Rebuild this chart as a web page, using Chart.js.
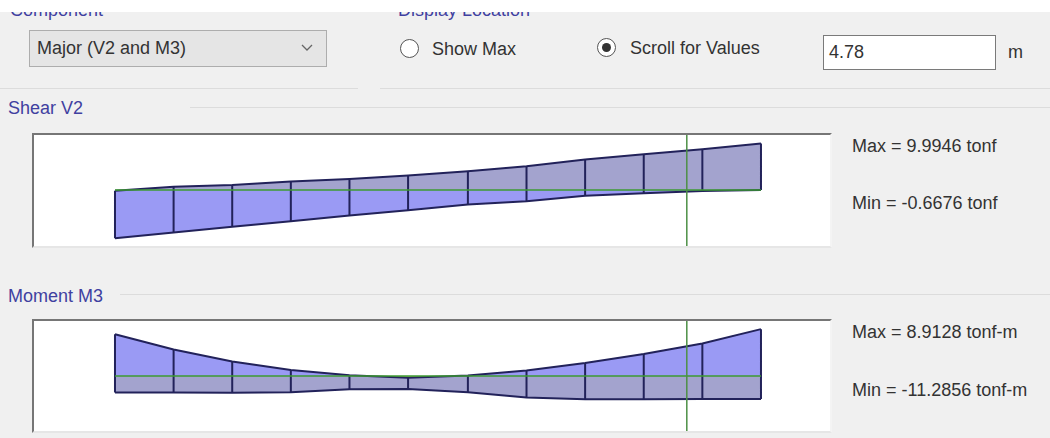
<!DOCTYPE html>
<html>
<head>
<meta charset="utf-8">
<script src="https://cdn.jsdelivr.net/npm/chart.js@4.4.1/dist/chart.umd.min.js"></script>
<style>
  body { margin: 0; width: 1050px; height: 438px; background: #f0f0f0; font-family: "Liberation Sans", Arial, sans-serif; font-size: 18px; color: #333; position: relative; overflow: hidden; }
  .abs { position: absolute; white-space: nowrap; line-height: 20px; }
  .grp { color: #4040a0; }
  .topband { position: absolute; left: 0; top: 0; width: 1050px; height: 12px; background: #fff; z-index: 5; }
  .sep { position: absolute; height: 1px; background: #dcdcdc; }
  .combo { position: absolute; left: 29px; top: 30px; width: 296px; height: 35px; background: #e5e5e5; border: 1px solid #adadad; }
  .radio { position: absolute; width: 17px; height: 17px; border: 1px solid #555; border-radius: 50%; background: #fff; }
  .dot { position: absolute; left: 4px; top: 4px; width: 9px; height: 9px; border-radius: 50%; background: #333; }
  .input { position: absolute; left: 823px; top: 35px; width: 171px; height: 33px; background: #fff; border: 1px solid #7a7a7a; }
  .box { position: absolute; left: 32px; width: 796px; background: #fff; border-top: 2px solid #767676; border-left: 2px solid #767676; border-right: 2px solid #f4f4f4; border-bottom: 2px solid #e6e6e6; }
  .box canvas { display: block; }
</style>
</head>
<body>
<div class="topband"></div>
<div class="abs grp" style="left:10px; top:0px;">Component</div>
<div class="abs grp" style="left:398px; top:0px;">Display Location</div>

<div class="combo"></div>
<div class="abs" style="left:37px; top:38px;">Major (V2 and M3)</div>
<svg style="position:absolute; left:301px; top:44px;" width="12" height="8"><polyline points="1,1 6,6 11,1" fill="none" stroke="#666" stroke-width="1.3"/></svg>

<div class="radio" style="left:400px; top:39px;"></div>
<div class="abs" style="left:432px; top:39px;">Show Max</div>
<div class="radio" style="left:597px; top:38px;"><div class="dot"></div></div>
<div class="abs" style="left:630px; top:38px;">Scroll for Values</div>
<div class="input"></div>
<div class="abs" style="left:829px; top:42px;">4.78</div>
<div class="abs" style="left:1008px; top:42px;">m</div>

<div class="sep" style="left:0; top:88px; width:358px;"></div>
<div class="sep" style="left:380px; top:88px; width:670px;"></div>
<div class="abs grp" style="left:8px; top:98px;">Shear V2</div>
<div class="sep" style="left:190px; top:107px; width:860px;"></div>

<div class="box" style="top:133px;"><canvas id="shear" width="796" height="111"></canvas></div>
<div class="abs" id="shearMax" style="left:852px; top:136px;"></div>
<div class="abs" id="shearMin" style="left:852px; top:193px;"></div>

<div class="abs grp" style="left:8px; top:286px;">Moment M3</div>
<div class="sep" style="left:120px; top:294px; width:930px;"></div>

<div class="box" style="top:319px;"><canvas id="moment" width="796" height="110"></canvas></div>
<div class="abs" id="momentMax" style="left:852px; top:322px;"></div>
<div class="abs" id="momentMin" style="left:852px; top:380px;"></div>

<script>
// estaciones a lo largo de la viga (m)
const stations = [0, 0.49, 0.98, 1.47, 1.96, 2.45, 2.95, 3.44, 3.93, 4.42, 4.91, 5.40];
const cursorX = 4.78;

// cortante V2 (tonf)
const shearTop = [-0.15, 0.72, 1.09, 1.82, 2.34, 3.13, 4.00, 5.10, 6.56, 7.65, 8.75, 9.99];
const shearBottom = [-10.34, -9.12, -7.87, -6.71, -5.47, -4.37, -3.13, -2.41, -1.25, -0.72, -0.22, 0];
const shearText = ['Max = 9.9946 tonf', 'Min = -0.6676 tonf'];

// momento M3 (tonf-m)
const momentTop = [7.95, 5.04, 2.77, 1.16, 0.12, -0.35, 0.10, 1.03, 2.46, 4.20, 6.20, 8.91];
const momentBottom = [-3.16, -3.16, -3.20, -3.10, -2.52, -2.45, -3.10, -4.07, -4.40, -4.40, -4.36, -4.36];
const momentText = ['Max = 8.9128 tonf-m', 'Min = -11.2856 tonf-m'];

const navy = '#22225a';
const green = '#3c9a32';
const bright = 'rgb(154,154,244)';
const grey = 'rgb(163,163,206)';
const yellow = 'rgb(214,226,110)';

function diagram(id, top, bottom, yMin, yMax, topFill, bottomFill) {
    const pts = arr => stations.map((x, i) => ({x: x, y: arr[i]}));
    const ticks = [];
    stations.forEach((x, i) => {
        ticks.push({x: x, y: top[i]}, {x: x, y: bottom[i]}, {x: x, y: null});
    });
    const last = stations[stations.length - 1];
    return new Chart(document.getElementById(id), {
        type: 'line',
        data: {
            datasets: [
                {data: [{x: cursorX, y: yMin}, {x: cursorX, y: yMax}], borderColor: '#4d8f45', borderWidth: 1.5},
                {data: [{x: 0, y: 0}, {x: last, y: 0}], borderColor: green, borderWidth: 1.5},
                {data: ticks, borderColor: navy, borderWidth: 2, spanGaps: false},
                {data: pts(top), borderColor: navy, borderWidth: 2},
                {data: pts(bottom), borderColor: navy, borderWidth: 2},
                {data: pts(top), borderColor: 'transparent', borderWidth: 1,
                 fill: {target: 'origin', above: topFill[0], below: topFill[1]}},
                {data: pts(bottom), borderColor: 'transparent', borderWidth: 1,
                 fill: {target: 'origin', above: bottomFill, below: bottomFill}}
            ]
        },
        options: {
            responsive: false,
            animation: false,
            layout: {padding: 0},
            elements: {point: {radius: 0}, line: {tension: 0}},
            scales: {
                x: {type: 'linear', min: -0.677, max: 5.977, display: false},
                y: {min: yMin, max: yMax, display: false}
            },
            plugins: {legend: {display: false}, tooltip: {enabled: false}}
        }
    });
}

diagram('shear', shearTop, shearBottom, -12.03, 11.81, [grey, grey], bright);
diagram('moment', momentTop, momentBottom, -10.46, 10.46, [bright, yellow], grey);

document.getElementById('shearMax').textContent = shearText[0];
document.getElementById('shearMin').textContent = shearText[1];
document.getElementById('momentMax').textContent = momentText[0];
document.getElementById('momentMin').textContent = momentText[1];
</script>
</body>
</html>
